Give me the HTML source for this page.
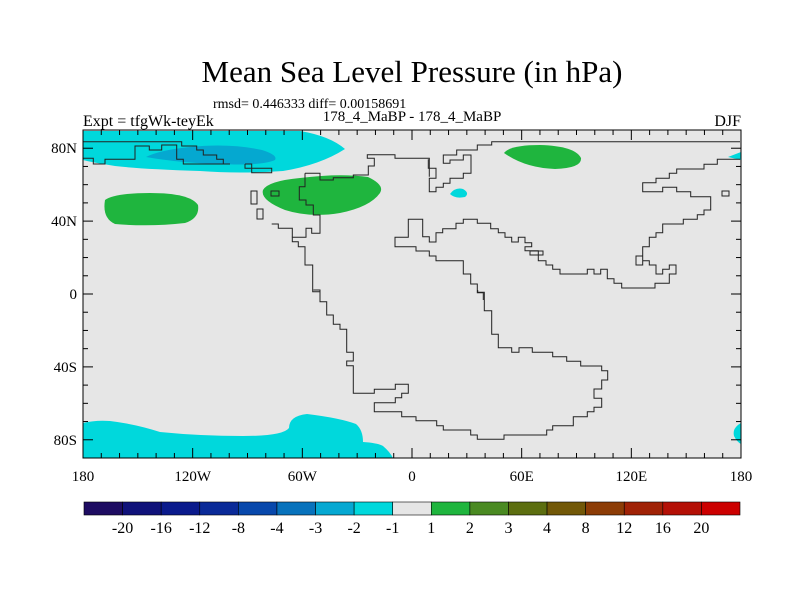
<!DOCTYPE html>
<html><head><meta charset="utf-8"><style>
body{margin:0;background:#fff;width:800px;height:600px;overflow:hidden}
svg text{font-family:"Liberation Serif",serif;fill:#000}
</style></head><body>
<svg id="chart" width="800" height="600">
<text x="412" y="82" font-size="31" text-anchor="middle">Mean Sea Level Pressure (in hPa)</text>
<text x="213" y="108" font-size="14">rmsd= 0.446333 diff= 0.00158691</text>
<text x="412" y="121" font-size="15" text-anchor="middle">178_4_MaBP - 178_4_MaBP</text>
<text x="83" y="126" font-size="16">Expt = tfgWk-teyEk</text>
<text x="741" y="126" font-size="16" text-anchor="end">DJF</text>
<rect x="83" y="130" width="658" height="328" fill="#e6e6e6"/>
<g>
<path fill="#00d8dc" d="M83,131 L300,131 Q330,136 345,149 Q320,165 283,171 Q240,174 200,171 Q140,169 115,166 Q90,162 83,160 Z"/>
<path fill="#05a8d0" d="M146,157 Q160,150 190,147 Q230,143 262,150 Q278,155 275,160 Q262,166 220,164 Q180,163 146,157 Z"/>
<path fill="#1fb53e" d="M105,200 Q115,193 150,193 Q190,193 198,205 Q200,218 185,223 Q150,227 115,224 Q102,218 105,200 Z"/>
<path fill="#1fb53e" d="M263,190 Q268,181 300,178 Q340,173 368,177 Q385,185 380,193 Q370,207 340,213 Q310,218 285,210 Q260,200 263,190 Z"/>
<path fill="#1fb53e" d="M504,153 Q510,145 540,145 Q575,146 581,158 Q582,168 555,169 Q525,168 504,153 Z"/>
<path fill="#00d8dc" d="M450,194 Q455,187 463,189 Q470,193 465,197 Q455,199 450,194 Z"/>
<path fill="#00d8dc" d="M728,157 L741,152 L741,160 Z"/>
<path fill="#00d8dc" d="M83,423 Q95,420 110,421 Q135,424 160,432 Q200,436 243,436 Q283,436 289,428 Q289,416 307,414 Q340,418 356,424 Q363,430 363,442 Q378,443 383,446 Q390,452 393,458 L83,458 Z"/>
<path fill="#00d8dc" d="M741,423 Q732,428 734,436 Q737,442 741,444 Z"/>
</g>
<g id="coast" fill="none" stroke="#222" stroke-width="1"></g>
<g id="axes"></g>
<rect x="83" y="130" width="658" height="328" fill="none" stroke="#000" stroke-width="1"/>
<g id="cbar"></g>
</svg>
<script>
const levelLabels=["-20","-16","-12","-8","-4","-3","-2","-1","1","2","3","4","8","12","16","20"];
const levelColors=["#1e0c62","#10127a","#0a1a8c","#0a2a98","#0848ac","#0872bc","#06a8d2","#00d8dc","#e6e6e6","#1fb53e","#4a8a22","#5c6e10","#725808","#8c3c06","#a02206","#b41006","#cc0000"];
const lonTicks=[-180,-120,-60,0,60,120,180];
const lonLabels=["180","120W","60W","0","60E","120E","180"];
const latTicks=[80,40,0,-40,-80];
const latLabels=["80N","40N","0","40S","80S"];
const NS="http://www.w3.org/2000/svg";
const X0=83,X1=741,Y0=130,Y1=458;
const xs=lon=>X0+(lon+180)/360*(X1-X0);
const ys=lat=>Y0+(90-lat)/180*(Y1-Y0);
function mk(t,a,p){const e=document.createElementNS(NS,t);for(const k in a)e.setAttribute(k,a[k]);p.appendChild(e);return e;}
const ax=document.getElementById('axes');
for(let l=-180;l<=180;l+=10){const big=lonTicks.includes(l);
 const t=mk('line',{x1:xs(l),x2:xs(l),y1:Y1,y2:Y1-(big?10:5),stroke:'#000'},ax);
 
 
 const t2=mk('line',{x1:xs(l),x2:xs(l),y1:Y0,y2:Y0+(big?10:5),stroke:'#000'},ax);
 
 }
for(let l=-90;l<=90;l+=10){const big=latTicks.includes(l);
 const t=mk('line',{x1:X0,x2:X0+(big?10:5),y1:ys(l),y2:ys(l),stroke:'#000'},ax);
 
 
 const t2=mk('line',{x1:X1,x2:X1-(big?10:5),y1:ys(l),y2:ys(l),stroke:'#000'},ax);
 
 }
lonTicks.forEach((l,i)=>{const t=mk('text',{x:xs(l),y:481,'font-size':15,'text-anchor':'middle'},ax);t.textContent=lonLabels[i];
 
 });
latTicks.forEach((l,i)=>{const t=mk('text',{x:X0-6,y:ys(l)+5,'font-size':15,'text-anchor':'end'},ax);t.textContent=latLabels[i];
 
 });
// colorbar
const cb=document.getElementById('cbar');const cbX=84,cbW=656,cbY=502,cbH=13;const bw=cbW/levelColors.length;
levelColors.forEach((c,i)=>{const r=mk('rect',{x:cbX+i*bw,y:cbY,width:bw,height:cbH,fill:c,stroke:'#000','stroke-width':0.6},cb);
 
 });
levelLabels.forEach((s,i)=>{const t=mk('text',{x:cbX+(i+1)*bw,y:533,'font-size':16,'text-anchor':'middle'},cb);t.textContent=s;
 
 });
// coastlines (pixel traced)
const co=document.getElementById('coast');
function z(ox,oy,s,pts){const r=[];for(let i=0;i<pts.length;i+=2)r.push((ox+pts[i]/s).toFixed(1)+','+(oy+pts[i+1]/s).toFixed(1));return r.join(' ');}
const lines=[
 z(240,140,3,[195,100,240,100,240,120,280,120,280,113,340,113,340,105,385,105,385,78,403,78,403,55,382,55,382,44,465,44,465,55,568,55,568,110]),
 z(400,130,3,[85,88,85,115,108,115,108,145,88,145,88,185,108,185,108,172,130,172,130,160,150,160,150,145,190,145,190,130,213,130,213,75,190,75,190,90,150,90,150,100,130,100,130,75,170,75,170,60,232,60,232,45,275,45,275,35,1020,35]),
 z(240,140,3,[195,100,195,140,178,140,178,180,198,180,198,195,220,195,220,225,240,225,240,280,215,280,215,265,198,265,198,292,157,292,157,305,175,305,175,320,195,320,195,375,218,375,218,455,240,455,240,480]),
 z(240,140,3,[95,252,115,252,115,265,157,265,157,292]),
 z(280,290,3,[100,0,120,0,120,35,140,35,140,75,160,75,160,103,180,103,180,118,200,118,200,187,220,187,220,213,200,213,200,227,220,227,220,310,283,310,283,298,346,298,346,283,385,283,385,310,365,310,365,323,346,323,346,338,283,338,283,365,365,365,365,380,408,380,408,392,470,392,470,407,490,407,490,420,572,420,572,435,592,435,592,448,672,448,672,435,800,435,800,420,818,420,818,407,880,407,880,380,922,380,922,365,942,365,942,352,965,352,965,325,942,325,942,297,965,297,965,270,983,270,983,242,965,242,965,228,902,228,902,214,860,214,860,200,818,200,818,187,757,187,757,173,717,173,717,187,695,187,695,173,655,173,655,133,635,133,635,62,613,62,613,7,593,7,593,0]),
 z(400,130,3,[250,510,250,488,232,488,232,462,212,462,212,432,190,432,190,392,108,392,108,378,88,378,88,363,48,363,48,350,-15,350,-15,322,25,322,25,268,68,268,68,320,88,320,88,336,108,336,108,308,128,308,128,296,168,296,168,280,190,280,190,268,232,268,232,280,272,280,272,296,295,296,295,308,315,308,315,322,335,322,335,336,355,336,355,322,375,322,375,338,395,338,395,350,375,350,375,362,415,362,415,392,438,392,438,405,458,405,458,418,480,418,480,432,562,432,562,418,582,418,582,432,602,432,602,418,622,418,622,446,642,446,642,460,665,460,665,474,765,474,765,460,808,460,808,432,828,432,828,405,808,405,808,418,788,418,788,432,768,432,768,405,748,405,748,392,728,392,728,378,708,378,708,405,728,405,728,350,748,350,748,322,768,322,768,308,788,308,788,282,850,282,850,268,892,268,892,254,912,254,912,240,932,240,932,200,872,200,872,185,830,185,830,172,788,172,788,185,728,185,728,158,768,158,768,145,808,145,808,130,830,130,830,117,912,117,912,103,952,103,952,88,1020,88]),
 z(70,90,3,[40,155,335,155,335,168,380,168,380,180,400,180,400,195,440,195,440,208,460,208,460,222,480,222]),
 z(70,90,3,[40,205,70,205,70,222,105,222,105,208,195,208,195,168,238,168,238,180,275,180,275,165,320,165,320,208,340,208,340,222,480,222]),
 z(70,90,3,[525,222,545,222,545,235,605,235,605,248,545,248,545,235,525,235,525,222])
];
const boxes=[[251,191,6,13],[257,209,6,10],[271,191,8,5],[530,251,13,4],[722,191,7,5]];
lines.forEach(p=>{const e=mk('polyline',{points:p},co);
 
 });
boxes.forEach(b=>{const e=mk('rect',{x:b[0],y:b[1],width:b[2],height:b[3]},co);
 
 });
</script>
</body></html>
